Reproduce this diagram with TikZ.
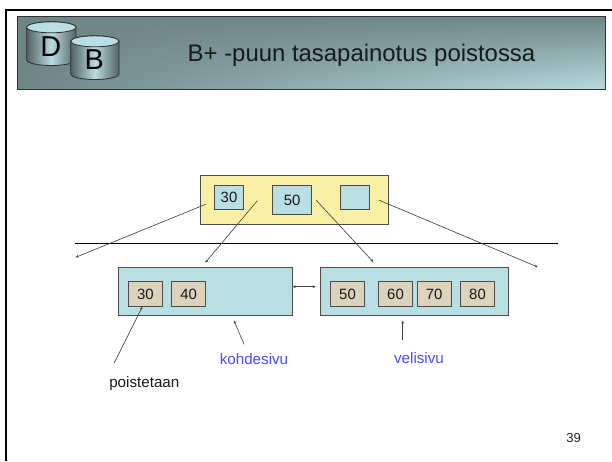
\documentclass[tikz,border=0pt]{standalone}
\usepackage{fontspec}
\setmainfont{Liberation Sans}
\usetikzlibrary{arrows.meta,shadings}
\definecolor{r110g133b135}{RGB}{110,133,135}
\definecolor{r184g220b223}{RGB}{184,220,223}
\definecolor{r185g223b227}{RGB}{185,223,227}
\definecolor{r249g240b165}{RGB}{249,240,165}
\definecolor{r221g211b189}{RGB}{221,211,189}
\definecolor{r74g74b255}{RGB}{74,74,255}
\tikzset{
  boxnode/.style={draw=black!70,line width=0.7pt,inner sep=0pt,outer sep=0pt,text=black!90,font=\fontsize{10.6}{12}\selectfont},
  rootbox/.style={boxnode,fill=r249g240b165},
  pagebox/.style={boxnode,fill=r185g223b227},
  slotbox/.style={boxnode,fill=r185g223b227},
  keybox/.style={boxnode,fill=r221g211b189,minimum width=24.4pt,minimum height=17.4pt},
  linkline/.style={line width=0.45pt,draw=black!75,-{Stealth[length=2.2pt,width=2pt]}},
  tagnode/.style={font=\fontsize{10.8}{12}\selectfont,inner sep=0pt}
}
\begin{document}
\begin{tikzpicture}[x=0.025cm,y=-0.025cm]
            \useasboundingbox (0,0) rectangle (612,461);

            % Drawing page frame
            \draw [line width=1.5pt] (6,461) -- (6,10) -- (612,10);%

            % Drawing title band
            \shade [upper left=r110g133b135,upper right=r110g133b135,lower left=r110g133b135,lower right=r184g220b223] (17.5,16.5) rectangle (605.5,89);%
            \draw [line width=0.6pt,black!80] (17.5,16.5) rectangle (605.5,89);%

            % Drawing cylinder D
            \shade [left color=r110g133b135!75!black,right color=r110g133b135!75!black,middle color=r184g220b223,draw=black!80,line width=0.6pt] (26.7,27.3) -- (26.7,60) arc (180:0:24.65 and 5.5) -- (76,27.3) arc (0:-180:24.65 and 5.5) -- cycle;%
            \draw [fill=r185g223b227,draw=black!80,line width=0.6pt] (51.35,27.3) ellipse (24.65 and 5.5);%
            \node (dbd) at (50.7,46.7) {\fontsize{20.5}{20}\selectfont D};%

            % Drawing cylinder B
            \shade [left color=r110g133b135!75!black,right color=r110g133b135!75!black,middle color=r184g220b223,draw=black!80,line width=0.6pt] (70.7,41.3) -- (70.7,74) arc (180:0:24.15 and 5.5) -- (119,41.3) arc (0:-180:24.15 and 5.5) -- cycle;%
            \draw [fill=r185g223b227,draw=black!80,line width=0.6pt] (94.85,41.3) ellipse (24.15 and 5.5);%
            \node (dbb) at (94.3,59.3) {\fontsize{20.5}{20}\selectfont B};%

            % Marking title
            \node (title) [inner sep=0pt,text=black!90] at (361.5,55) {\fontsize{17}{20}\selectfont B+ -puun tasapainotus poistossa};%

            % Drawing root node and its slots
            \node (root) [rootbox,minimum width=133.3pt,minimum height=34.7pt] at (294.3,199.8) {};%
            \node (root30) [slotbox,minimum width=20.8pt,minimum height=17.3pt] at (229,197.5) {30};%
            \node (root50) [slotbox,minimum width=27.6pt,minimum height=20.9pt] at (292.2,200.1) {50};%
            \node (rootnil) [slotbox,minimum width=21pt,minimum height=17.3pt] at (354.9,197.5) {};%

            % Drawing separating line
            \coordinate (sepa) at (75,243.3);%
            \coordinate (sepb) at (557.7,243.3);%
            \draw [line width=0.7pt] (sepa) -- (sepb);%

            % Drawing leaf pages
            \node (kohde) [pagebox,minimum width=123.3pt,minimum height=34.7pt] at (205.3,291.5) {};%
            \node (veli) [pagebox,minimum width=133.5pt,minimum height=34.7pt] at (414.85,291.5) {};%

            % Marking keys of the leaf pages
            \node (kohde30) [keybox] at (145.5,294) {30};%
            \node (kohde40) [keybox] at (188.7,294) {40};%
            \node (veli50) [keybox] at (347.5,294) {50};%
            \node (veli60) [keybox] at (395.5,294) {60};%
            \node (veli70) [keybox] at (434.2,294) {70};%
            \node (veli80) [keybox] at (477.5,294) {80};%

            % Marking free ends of the links
            \coordinate (fromroota) at (205.7,204.3);%
            \coordinate (toleft) at (75.7,257.3);%
            \coordinate (fromrootb) at (257.3,200.7);%
            \coordinate (tokohde) at (205.3,262.7);%
            \coordinate (fromrootc) at (316,200);%
            \coordinate (toveli) at (373.3,262);%
            \coordinate (fromrootd) at (378.7,200);%
            \coordinate (toright) at (537.7,267);%
            \coordinate (sidea) at (292.7,286.7);%
            \coordinate (sideb) at (315.7,286.7);%
            \coordinate (removefoot) at (114,363.3);%
            \coordinate (removehead) at (142.3,306.7);%
            \coordinate (kohdefoot) at (244,344.3);%
            \coordinate (kohdehead) at (234,320.7);%
            \coordinate (velifoot) at (402.7,340);%
            \coordinate (velihead) at (402.7,320.7);%

            % Drawing links
            \draw [linkline] (fromroota) -- (toleft);%
            \draw [linkline] (fromrootb) -- (tokohde);%
            \draw [linkline] (fromrootc) -- (toveli);%
            \draw [linkline] (fromrootd) -- (toright);%
            \draw [linkline,{Stealth[length=2.2pt,width=2pt]}-{Stealth[length=2.2pt,width=2pt]}] (sidea) -- (sideb);%
            \draw [linkline] (removefoot) -- (removehead);%
            \draw [linkline] (kohdefoot) -- (kohdehead);%
            \draw [linkline] (velifoot) -- (velihead);%

            % Marking labels
            \node (kohdetag) [tagnode,text=r74g74b255] at (254,359) {kohdesivu};%
            \node (velitag) [tagnode,text=r74g74b255] at (419,357.7) {velisivu};%
            \node (removetag) [tagnode,text=black!90] at (144.3,383.3) {poistetaan};%
            \node (pagenum) [inner sep=0pt,text=black!85] at (573.7,437.7) {\fontsize{9.3}{11}\selectfont 39};%
\end{tikzpicture}
\end{document}
